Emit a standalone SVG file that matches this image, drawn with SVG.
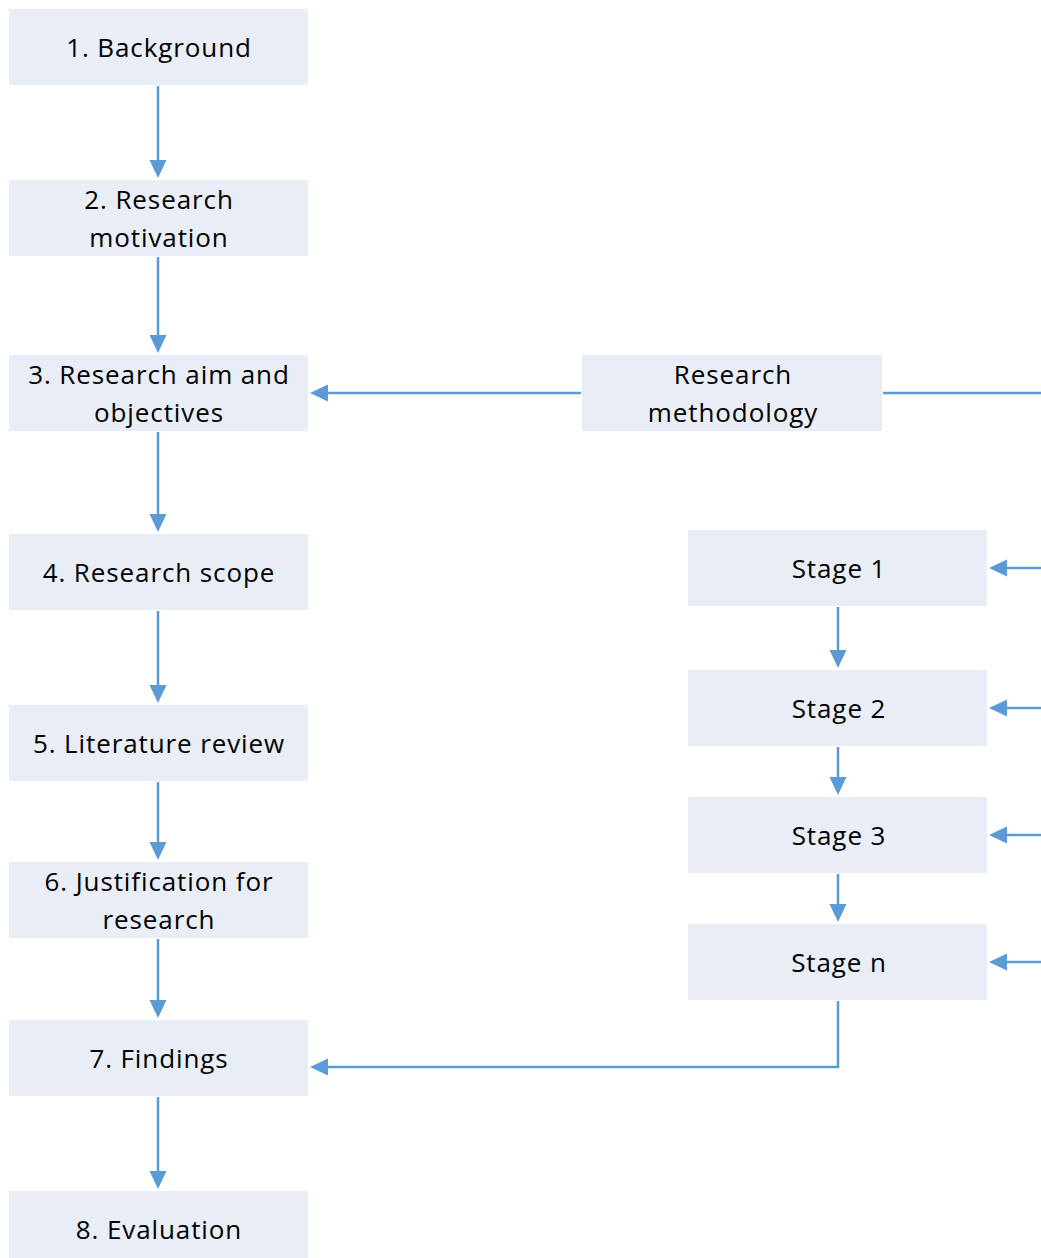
<svg xmlns="http://www.w3.org/2000/svg" width="1041" height="1258" viewBox="0 0 1041 1258">
  <style>
    .box { fill: #E9EDF6; }
    .lbl { font-family: "Open Sans", "Noto Sans", "DejaVu Sans", sans-serif; font-size: 26px; letter-spacing: 0.9px; fill: #000; text-anchor: middle; }
    .wire { stroke: #5B9BD5; stroke-width: 2.5; fill: none; }
    .head { fill: #5B9BD5; }
  </style>
  <rect width="1041" height="1258" fill="#FFFFFF"/>

  <!-- left column -->
  <g id="n1"><rect class="box" x="9" y="9" width="299" height="76"/><text class="lbl" x="159" y="57">1. Background</text></g>
  <g id="n2"><rect class="box" x="9" y="180" width="299" height="76"/><text class="lbl" x="159" y="209">2. Research</text><text class="lbl" x="159" y="247">motivation</text></g>
  <g id="n3"><rect class="box" x="9" y="355" width="299" height="76"/><text class="lbl" x="159" y="384">3. Research aim and</text><text class="lbl" x="159" y="422">objectives</text></g>
  <g id="n4"><rect class="box" x="9" y="534" width="299" height="76"/><text class="lbl" x="159" y="582">4. Research scope</text></g>
  <g id="n5"><rect class="box" x="9" y="705" width="299" height="76"/><text class="lbl" x="159" y="753">5. Literature review</text></g>
  <g id="n6"><rect class="box" x="9" y="862" width="299" height="76"/><text class="lbl" x="159" y="891">6. Justification for</text><text class="lbl" x="159" y="929">research</text></g>
  <g id="n7"><rect class="box" x="9" y="1020" width="299" height="76"/><text class="lbl" x="159" y="1068">7. Findings</text></g>
  <g id="n8"><rect class="box" x="9" y="1191" width="299" height="76"/><text class="lbl" x="159" y="1239">8. Evaluation</text></g>

  <!-- methodology and stages -->
  <g id="rm"><rect class="box" x="582" y="355" width="300" height="76"/><text class="lbl" x="733" y="384">Research</text><text class="lbl" x="733" y="422">methodology</text></g>
  <g id="s1"><rect class="box" x="688" y="530" width="299" height="76"/><text class="lbl" x="839" y="578">Stage 1</text></g>
  <g id="s2"><rect class="box" x="688" y="670" width="299" height="76"/><text class="lbl" x="839" y="718">Stage 2</text></g>
  <g id="s3"><rect class="box" x="688" y="797" width="299" height="76"/><text class="lbl" x="839" y="845">Stage 3</text></g>
  <g id="sn"><rect class="box" x="688" y="924" width="299" height="76"/><text class="lbl" x="839" y="972">Stage n</text></g>

  <g id="connectors">
    <!-- vertical chain, left column -->
    <path class="wire" d="M158 86 V162 M158 257 V337 M158 432 V516 M158 611 V687 M158 782 V844 M158 939 V1002 M158 1097 V1173"/>
    <path class="head" d="M149.5 160 L166.5 160 L158 178 Z M149.5 335 L166.5 335 L158 353 Z M149.5 514 L166.5 514 L158 532 Z M149.5 685 L166.5 685 L158 703 Z M149.5 842 L166.5 842 L158 860 Z M149.5 1000 L166.5 1000 L158 1018 Z M149.5 1171 L166.5 1171 L158 1189 Z"/>

    <!-- methodology to aims, and feed line to the right -->
    <path class="wire" d="M581 393 H326 M883 393 H1041"/>
    <path class="head" d="M310 393 L328 384.5 L328 401.5 Z"/>

    <!-- stage chain -->
    <path class="wire" d="M838 607 V652 M838 747 V779 M838 874 V906"/>
    <path class="head" d="M829.5 650 L846.5 650 L838 668 Z M829.5 777 L846.5 777 L838 795 Z M829.5 904 L846.5 904 L838 922 Z"/>

    <!-- inputs into stages from the right -->
    <path class="wire" d="M1041 568 H1005 M1041 708 H1005 M1041 835 H1005 M1041 962 H1005"/>
    <path class="head" d="M989 568 L1007 559.5 L1007 576.5 Z M989 708 L1007 699.5 L1007 716.5 Z M989 835 L1007 826.5 L1007 843.5 Z M989 962 L1007 953.5 L1007 970.5 Z"/>

    <!-- stage n to findings -->
    <path class="wire" d="M838 1001 V1067 H326"/>
    <path class="head" d="M310 1067 L328 1058.5 L328 1075.5 Z"/>
  </g>
</svg>
